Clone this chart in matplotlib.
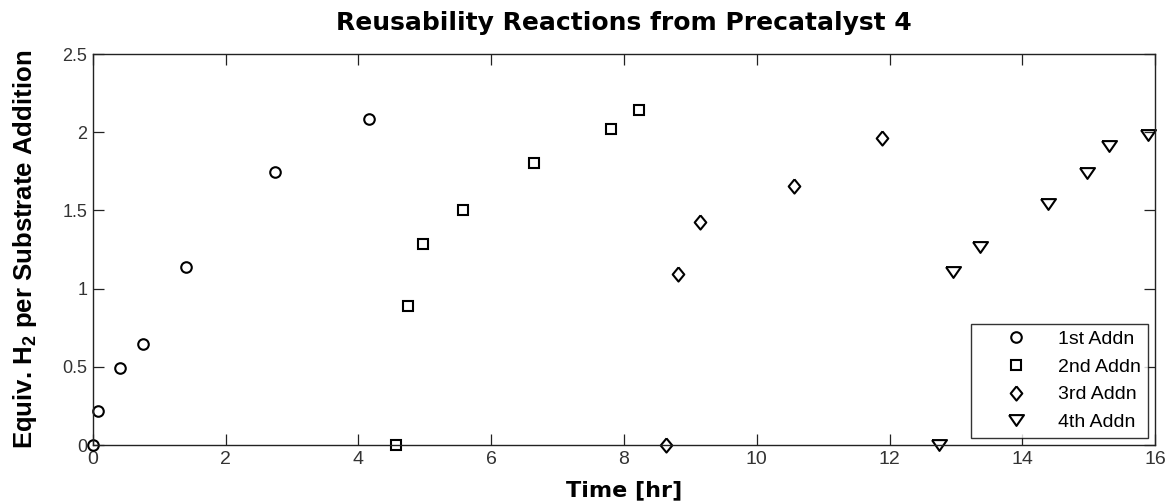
import matplotlib
matplotlib.use('Agg')
import matplotlib.pyplot as plt

# data
t1 = [0.0, 0.075, 0.41, 0.75, 1.40, 2.74, 4.16]
h1 = [0.0, 0.217, 0.494, 0.646, 1.14, 1.744, 2.083]

t2 = [4.56, 4.74, 4.97, 5.57, 6.65, 7.81, 8.23]
h2 = [0.0, 0.891, 1.287, 1.50, 1.80, 2.018, 2.142]

t3 = [8.64, 8.82, 9.14, 10.56, 11.89]
h3 = [0.0, 1.093, 1.426, 1.656, 1.965]

t4 = [12.74, 12.96, 13.37, 14.39, 14.97, 15.31, 15.89]
h4 = [0.0, 1.106, 1.268, 1.541, 1.737, 1.912, 1.984]

labels = ['1st Addn', '2nd Addn', '3rd Addn', '4th Addn']

# matlab-ish marker shapes (diamond taller than wide, flat triangle)
diamond = [(0, 1), (0.82, 0), (0, -1), (-0.82, 0), (0, 1)]
tri_down = [(-1, 0.72), (1, 0.72), (0, -0.72), (-1, 0.72)]
markers = ['o', 's', diamond, tri_down]
sizes = [7.6, 7.2, 10.2, 10.8]

plt.rcParams['font.family'] = ['Liberation Sans', 'DejaVu Sans']
plt.rcParams['mathtext.fontset'] = 'custom'
plt.rcParams['mathtext.bf'] = 'Liberation Sans:bold'
plt.rcParams['mathtext.rm'] = 'Liberation Sans'

fig = plt.figure(figsize=(11.68, 5.03), dpi=100)
ax = fig.add_axes([0.0796, 0.1153, 0.9093, 0.7773])

series = [(t1, h1), (t2, h2), (t3, h3), (t4, h4)]
for (t, h), m, ms, lab in zip(series, markers, sizes, labels):
    ax.plot(t, h, linestyle='none', marker=m, markersize=ms,
            markerfacecolor='none', markeredgecolor='black',
            markeredgewidth=1.5, label=lab, clip_on=False)

ax.set_xlim(0, 16)
ax.set_ylim(0, 2.5)
ax.set_xticks(range(0, 17, 2))
ax.set_yticks([0, 0.5, 1, 1.5, 2, 2.5])
ax.set_yticklabels(['0', '0.5', '1', '1.5', '2', '2.5'])
ax.tick_params(direction='in', top=True, right=True, length=8,
               width=0.9, colors='#222222', pad=4)
ax.tick_params(axis='x', labelsize=14)
ax.tick_params(axis='y', labelsize=13)
for label in ax.get_xticklabels() + ax.get_yticklabels():
    label.set_color('#333333')
for s in ax.spines.values():
    s.set_linewidth(1.0)
    s.set_color('#222222')

ax.set_title('Reusability Reactions from Precatalyst 4',
             fontsize=18, fontweight='bold', family='DejaVu Sans', pad=17)
ax.set_xlabel('Time [hr]', fontsize=16, fontweight='bold',
              family='DejaVu Sans', labelpad=9)
ax.set_ylabel(r'Equiv. H$_\mathbf{2}$ per Substrate Addition',
              fontsize=18.5, fontweight='bold', labelpad=17)

leg = ax.legend(loc='lower right', fontsize=14, frameon=True, fancybox=False,
                edgecolor='black', borderaxespad=0.36, handletextpad=0.25,
                labelspacing=0.52, borderpad=0.35, handlelength=3.9)
leg.get_frame().set_linewidth(1.0)

fig.savefig('out.png', dpi=100)
